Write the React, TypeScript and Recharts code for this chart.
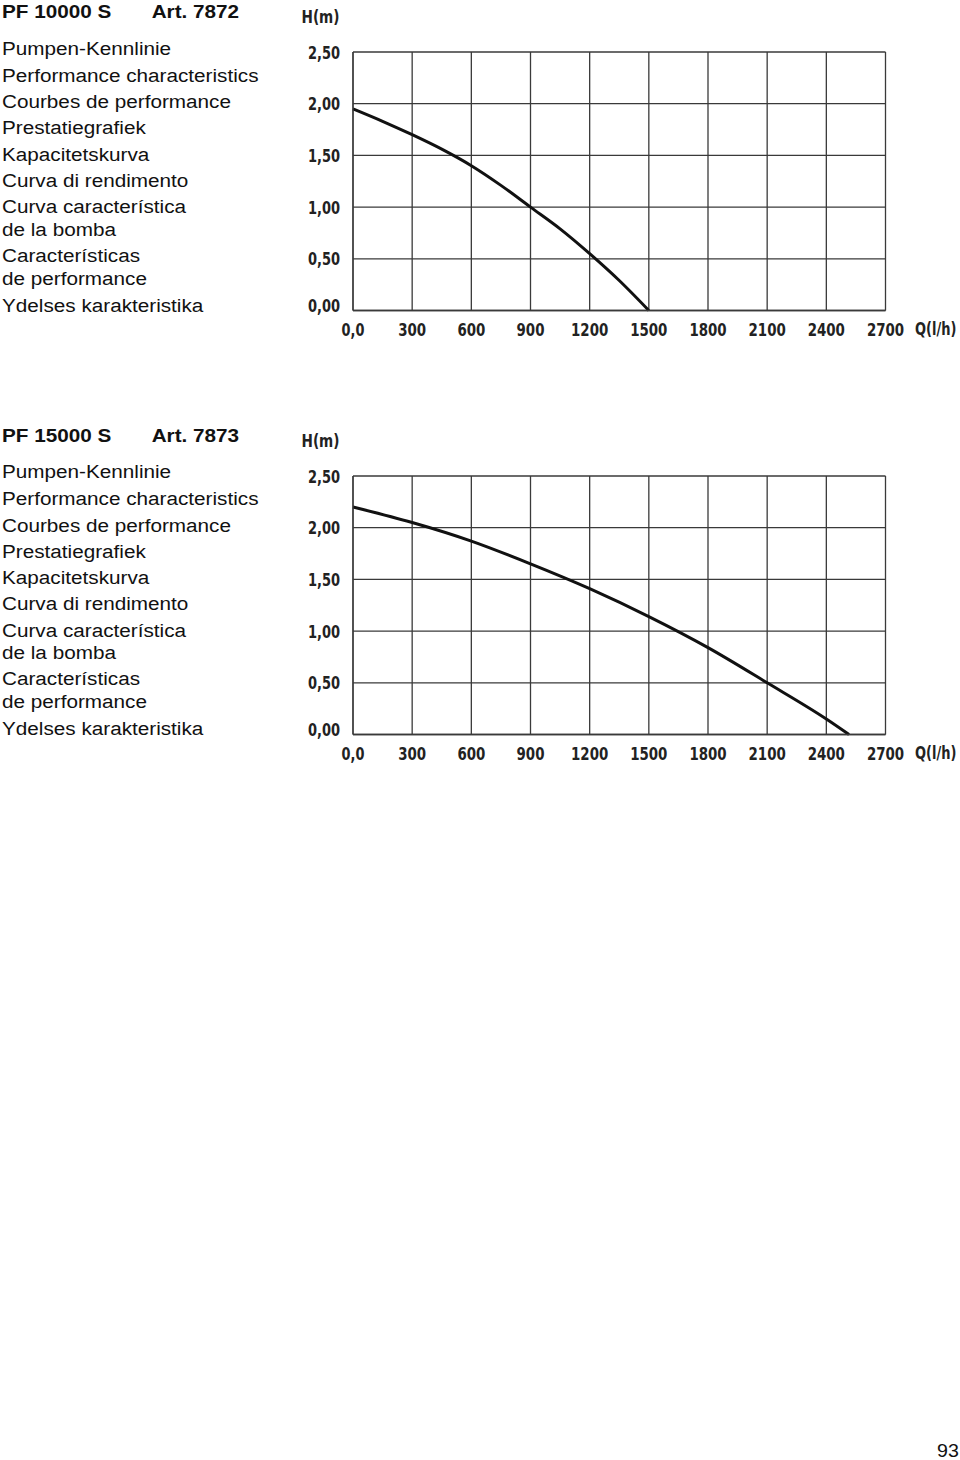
import { CartesianGrid, Line, LineChart, XAxis, YAxis } from 'recharts';

const flowTicks = [0, 300, 600, 900, 1200, 1500, 1800, 2100, 2400, 2700];
const headTicks = [0, 0.5, 1, 1.5, 2, 2.5];

// PF 10000 S  (Art. 7872)
const pf10000Flow = [0, 150, 300, 450, 600, 750, 900, 1050, 1200, 1350, 1500];
const pf10000Head = [1.95, 1.83, 1.7, 1.56, 1.4, 1.21, 1.0, 0.79, 0.55, 0.29, 0];

// PF 15000 S  (Art. 7873)
const pf15000Flow = [0, 300, 600, 900, 1200, 1500, 1800, 2100, 2400, 2515];
const pf15000Head = [2.2, 2.05, 1.87, 1.65, 1.41, 1.14, 0.84, 0.5, 0.15, 0];

const descLines = [
  'Pumpen-Kennlinie',
  'Performance characteristics',
  'Courbes de performance',
  'Prestatiegrafiek',
  'Kapacitetskurva',
  'Curva di rendimento',
  'Curva característica',
  'de la bomba',
  'Características',
  'de performance',
  'Ydelses karakteristika',
];
const descBaselines = [55, 81.7, 108.5, 134.3, 160.7, 186.7, 213.3, 236, 261.7, 285, 311.7];

const toRows = (flow: number[], head: number[]) => flow.map((q, i) => ({ flow: q, head: head[i] }));

const models = [
  { name: 'PF 10000 S', art: 'Art. 7872', rows: toRows(pf10000Flow, pf10000Head), top: 0 },
  { name: 'PF 15000 S', art: 'Art. 7873', rows: toRows(pf15000Flow, pf15000Head), top: 423.5 },
];

const condensed = {
  fontFamily: '"DejaVu Sans Condensed", "DejaVu Sans", sans-serif',
  fontStretch: 'condensed' as const,
  fontWeight: 700,
  fontSize: 18,
  fill: '#222',
};

// rough glyph widths of the narrow label face, used to force text width
const charW = (c: string) => {
  if (/[0-9]/.test(c)) return 9.3;
  const w: Record<string, number> = { ',': 4.2, '(': 6, ')': 6, '/': 5, l: 3.5, h: 9, Q: 11, H: 12, m: 14 };
  return w[c] ?? 8;
};
const textW = (s: string) => s.split('').reduce((a, c) => a + charW(c), 0);

const fmtHead = (v: number) => v.toFixed(2).replace('.', ',');
const fmtFlow = (v: number) => (v === 0 ? '0,0' : String(v));

function FlowTick(props: any) {
  const { x, y, payload } = props;
  const s = fmtFlow(payload.value);
  return (
    <text x={x} y={y + 25} textAnchor="middle" textLength={textW(s)} lengthAdjust="spacingAndGlyphs" style={condensed}>
      {s}
    </text>
  );
}

function HeadTick(props: any) {
  const { x, y, payload } = props;
  const s = fmtHead(payload.value);
  return (
    <text
      x={x - 13}
      y={payload.value === 0 ? y + 1 : y + 6.5}
      textAnchor="end"
      textLength={textW(s)}
      lengthAdjust="spacingAndGlyphs"
      style={condensed}
    >
      {s}
    </text>
  );
}

function PumpChart({ rows, top }: { rows: { flow: number; head: number }[]; top: number }) {
  return (
    <div style={{ position: 'absolute', left: 0, top, width: 960, height: 350 }}>
      <LineChart width={960} height={350} data={rows} margin={{ top: 52, right: 74.5, bottom: 9.5, left: 293 }}>
        <CartesianGrid stroke="#3a3a3a" strokeWidth={1.3} />
        <XAxis
          dataKey="flow"
          type="number"
          domain={[0, 2700]}
          ticks={flowTicks}
          height={30}
          tickSize={0}
          tickMargin={0}
          axisLine={{ stroke: '#3a3a3a', strokeWidth: 1.3 }}
          tickLine={false}
          tick={<FlowTick />}
          interval={0}
        />
        <YAxis
          type="number"
          domain={[0, 2.5]}
          ticks={headTicks}
          width={60}
          tickSize={0}
          tickMargin={0}
          axisLine={{ stroke: '#3a3a3a', strokeWidth: 1.3 }}
          tickLine={false}
          tick={<HeadTick />}
          interval={0}
        />
        <Line
          type="monotone"
          dataKey="head"
          stroke="#111"
          strokeWidth={3}
          dot={false}
          isAnimationActive={false}
        />
      </LineChart>
    </div>
  );
}

const bodyFont = { fontFamily: '"Liberation Sans", Arial, sans-serif', fontSize: 19, fill: '#111' };

export default function App() {
  return (
    <div style={{ position: 'absolute', left: 0, top: 0, width: 960, height: 1460, background: '#fff' }}>
      {models.map((m) => (
        <PumpChart key={m.name} rows={m.rows} top={m.top} />
      ))}
      <svg width={960} height={1460} style={{ position: 'absolute', left: 0, top: 0, pointerEvents: 'none' }}>
        {models.map((m) => (
          <g key={m.name} transform={`translate(0, ${m.top})`}>
            <g transform="translate(2, 0) scale(1.09, 1)">
              <text x={0} y={18.3} style={{ ...bodyFont, fontWeight: 700 }}>
                {m.name}
              </text>
              <text x={137.3} y={18.3} style={{ ...bodyFont, fontWeight: 700 }}>
                {m.art}
              </text>
              {descLines.map((line, i) => (
                <text key={line} x={0} y={descBaselines[i]} style={bodyFont}>
                  {line}
                </text>
              ))}
            </g>
            <text x={301.5} y={23} textLength={textW('H(m)')} lengthAdjust="spacingAndGlyphs" style={condensed}>
              H(m)
            </text>
            <g transform="translate(915, 335) scale(0.78, 1)">
              <text x={0} y={0} textLength={53} lengthAdjust="spacingAndGlyphs" style={condensed}>
                Q(l/h)
              </text>
            </g>
          </g>
        ))}
        <g transform="translate(937, 0) scale(1.09, 1)">
          <text x={0} y={1457} style={{ ...bodyFont, fontSize: 18 }}>
            93
          </text>
        </g>
      </svg>
    </div>
  );
}
